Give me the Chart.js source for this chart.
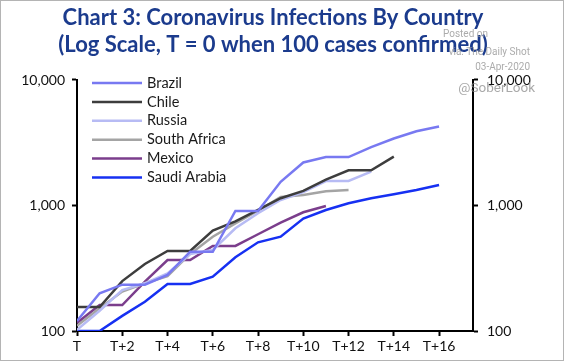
<!DOCTYPE html>
<html>
<head>
<meta charset="utf-8">
<script src="https://cdn.jsdelivr.net/npm/chart.js@4.4.1/dist/chart.umd.min.js"></script>
<style>
body { margin: 0; background: #fff; }
#wrap { width: 564px; height: 361px; box-sizing: border-box; border: 1px solid #b4b4b4; background: #fff; }
canvas { display: block; }
</style>
</head>
<body>
<div id="wrap"><canvas id="chart3" width="562" height="359"></canvas></div>
<script>
// days since 100 confirmed cases
const brazil      = [120, 200, 234, 234, 280, 428, 428, 904, 904, 1546, 2201, 2433, 2433, 2915, 3417, 3904, 4256]
const chile       = [155, 155, 250, 342, 434, 434, 632, 746, 922, 1142, 1306, 1610, 1909, 1909, 2449]
const russia      = [102, 145, 212, 240, 288, 411, 442, 658, 867, 1106, 1281, 1567, 1567, 1859]
const southAfrica = [110, 152, 206, 240, 274, 411, 564, 721, 909, 1170, 1210, 1300, 1330]
const mexico      = [116, 161, 161, 247, 368, 368, 476, 476, 590, 729, 883, 991]
const saudiArabia = [100, 100, 132, 171, 237, 237, 271, 387, 509, 564, 788, 920, 1042, 1141, 1228, 1330, 1456]

const yTicks = [100, 1000, 10000]
const xTicks = [0, 2, 4, 6, 8, 10, 12, 14, 16]

const toPoints = arr => arr.map((v, i) => ({ x: i, y: v }))

function makeSet(label, values, color) {
    return {
        label: label,
        data: toPoints(values),
        borderColor: color,
        backgroundColor: color,
        borderWidth: 2.5,
        pointRadius: 0,
        tension: 0,
        fill: false
    }
}

const fmt = v => Number(v).toLocaleString("en-US")

const axisGrid = {
    drawOnChartArea: false,
    drawTicks: true,
    tickLength: 5,
    tickColor: "#000",
    tickWidth: 2
}
const axisBorder = { display: true, color: "#000", width: 2 }
const tickFont = { family: "Lato", size: 14 }

// legend drawn inside the plot, top left
const insideLegend = {
    id: "insideLegend",
    afterDraw(chart) {
        const ctx = chart.ctx
        const left = chart.chartArea.left + 15
        ctx.save()
        ctx.font = "14.5px Lato"
        ctx.textBaseline = "middle"
        chart.data.datasets.forEach((ds, i) => {
            const y = chart.chartArea.top + 3 + i * 18.9
            ctx.strokeStyle = ds.borderColor
            ctx.lineWidth = 2.5
            ctx.beginPath()
            ctx.moveTo(left, y)
            ctx.lineTo(left + 50, y)
            ctx.stroke()
            ctx.fillStyle = "#1a1a1a"
            ctx.fillText(ds.label, left + 55, y)
        })
        ctx.restore()
    }
}

// "posted on" stamp at top right
const stamp = {
    id: "stamp",
    afterDraw(chart) {
        const ctx = chart.ctx
        ctx.save()
        ctx.textAlign = "right"
        ctx.textBaseline = "middle"
        ctx.fillStyle = "rgba(150,150,150,0.8)"
        ctx.font = "10px Roboto"
        ctx.fillText("Posted on", 487, 33)
        ctx.fillText("via: The Daily Shot", 529, 51)
        ctx.fillText("03-Apr-2020", 529, 66)
        ctx.font = "13.5px Roboto"
        ctx.fillStyle = "rgba(140,140,140,0.75)"
        ctx.fillText("@SoberLook", 534, 88)
        ctx.restore()
    }
}

// nudge the title a little left, as in the original
const titleShift = {
    id: "titleShift",
    afterLayout(chart) {
        if (chart.titleBlock) chart.titleBlock.right -= 18
    }
}

document.addEventListener("DOMContentLoaded", () => {
    const config = {
        type: "line",
        data: {
            datasets: [
                makeSet("Brazil", brazil, "#7879f1"),
                makeSet("Chile", chile, "#3d3d3d"),
                makeSet("Russia", russia, "#b7bbf4"),
                makeSet("South Africa", southAfrica, "#a4a4a4"),
                makeSet("Mexico", mexico, "#7b3e8c"),
                makeSet("Saudi Arabia", saudiArabia, "#1630f2")
            ]
        },
        options: {
            responsive: false,
            animation: false,
            layout: { padding: 0 },
            plugins: {
                legend: { display: false },
                tooltip: { enabled: false },
                title: {
                    display: true,
                    text: ["Chart 3: Coronavirus Infections By Country", "(Log Scale, T = 0 when 100 cases confirmed)"],
                    color: "#1b3b8d",
                    font: { family: "Lato", size: 22, weight: "bold", lineHeight: 1.227 },
                    padding: { top: 3.5, bottom: 21.5 }
                }
            },
            scales: {
                x: {
                    type: "linear",
                    min: 0,
                    max: 17.5,
                    grid: axisGrid,
                    border: axisBorder,
                    afterBuildTicks: s => { s.ticks = xTicks.map(v => ({ value: v })) },
                    afterFit: s => { s.height = 29 },
                    ticks: {
                        color: "#111",
                        font: tickFont,
                        padding: 2,
                        maxRotation: 0,
                        callback: v => v === 0 ? "T" : "T+" + v
                    }
                },
                y: {
                    type: "logarithmic",
                    position: "left",
                    min: 100,
                    max: 10000,
                    grid: axisGrid,
                    border: axisBorder,
                    afterBuildTicks: s => { s.ticks = yTicks.map(v => ({ value: v })) },
                    afterFit: s => { s.width = 76 },
                    ticks: { color: "#111", font: tickFont, padding: 7, callback: v => fmt(v) }
                },
                y2: {
                    type: "logarithmic",
                    position: "right",
                    min: 100,
                    max: 10000,
                    grid: axisGrid,
                    border: axisBorder,
                    afterBuildTicks: s => { s.ticks = yTicks.map(v => ({ value: v })) },
                    afterFit: s => { s.width = 90 },
                    ticks: { color: "#111", font: tickFont, padding: 9, callback: v => fmt(v) }
                }
            }
        },
        plugins: [insideLegend, stamp, titleShift]
    }

    let ctx = document.getElementById("chart3")
    ctx.getContext("2d")
    new Chart(ctx, config)
})
</script>
</body>
</html>
